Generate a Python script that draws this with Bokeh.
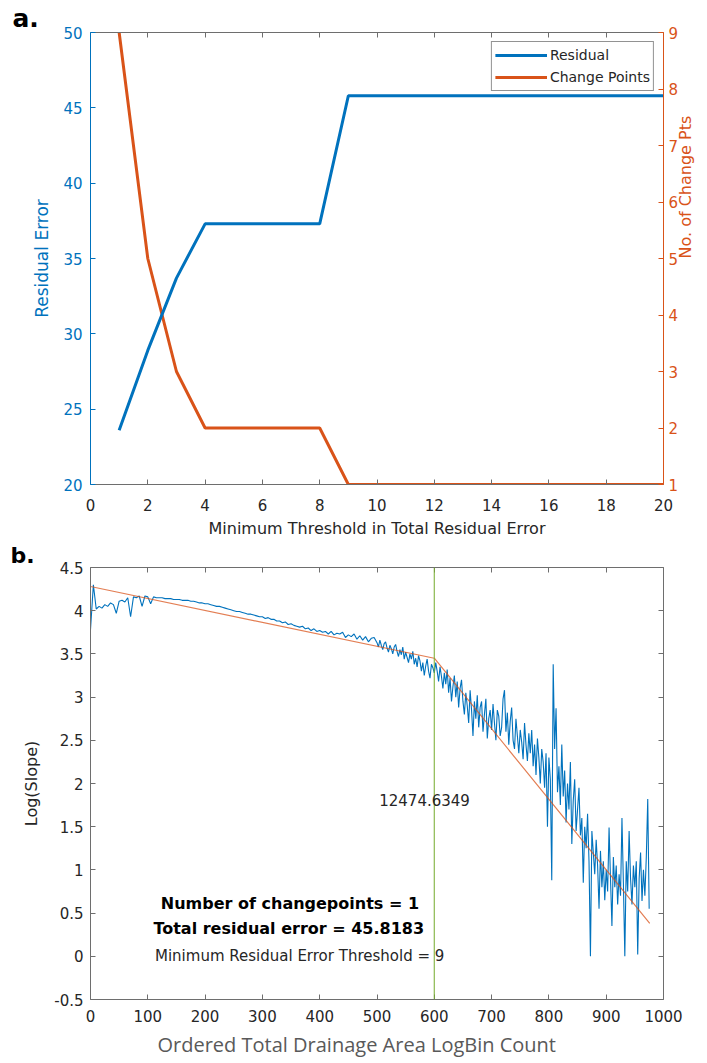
import math
from bokeh.plotting import figure
from bokeh.models import (LinearAxis, Range1d, Legend, LegendItem, Label, Span, Title,
                          CustomJSTickFormatter, FixedTicker)
from bokeh.layouts import column
from bokeh.embed import file_html
from bokeh.resources import INLINE

# ---------------- panel a data ----------------
thresholds = list(range(1, 21))
residual_error = [23.6, 28.9, 33.7, 37.3, 37.3, 37.3, 37.3, 37.3, 45.8, 45.8,
                  45.8, 45.8, 45.8, 45.8, 45.8, 45.8, 45.8, 45.8, 45.8, 45.8]
change_points = [9, 5, 3, 2, 2, 2, 2, 2, 1, 1, 1, 1, 1, 1, 1, 1, 1, 1, 1, 1]
a_x_ticks = list(range(0, 21, 2))
a_left_ticks = [20, 25, 30, 35, 40, 45, 50]
a_right_ticks = [1, 2, 3, 4, 5, 6, 7, 8, 9]

# ---------------- panel b data ----------------
# bins 0..495 (every 5th bin), then 500..975 (every 2.5)
bin_count = list(range(0, 500, 5)) + [500 + 2.5 * i for i in range(191)]
log_slope_upper = [
    3.78, 4.30, 4.02, 4.05, 4.03, 4.07, 4.05, 4.09, 4.07, 3.97,
    4.11, 4.12, 4.10, 4.15, 3.93, 4.16, 4.15, 4.17, 4.05, 4.17,
    4.16, 4.08, 4.16, 4.15, 4.15, 4.15, 4.14, 4.14, 4.14, 4.13,
    4.13, 4.13, 4.12, 4.12, 4.12, 4.11, 4.11, 4.10, 4.09, 4.09,
    4.08, 4.08, 4.07, 4.06, 4.05, 4.05, 4.04, 4.03, 4.02, 4.01,
    4.00, 3.99, 3.99, 3.98, 3.97, 3.96, 3.96, 3.95, 3.94, 3.93,
    3.93, 3.91, 3.92, 3.90, 3.90, 3.88, 3.88, 3.86, 3.87, 3.84,
    3.85, 3.83, 3.82, 3.81, 3.82, 3.79, 3.80, 3.77, 3.79, 3.76,
    3.77, 3.75, 3.76, 3.73, 3.76, 3.72, 3.74, 3.73, 3.75, 3.69,
    3.72, 3.70, 3.73, 3.67, 3.71, 3.66, 3.70, 3.64, 3.68, 3.69,
]
log_slope_lower = [
    3.63, 3.58, 3.66, 3.60, 3.55, 3.62, 3.64, 3.57, 3.52, 3.60,
    3.56, 3.50, 3.58, 3.61, 3.53, 3.47, 3.55, 3.49, 3.58, 3.44,
    3.52, 3.46, 3.40, 3.50, 3.44, 3.53, 3.38, 3.45, 3.35, 3.48,
    3.42, 3.30, 3.40, 3.25, 3.36, 3.44, 3.30, 3.22, 3.38, 3.34,
    3.28, 3.40, 3.30, 3.18, 3.35, 3.24, 3.10, 3.28, 3.15, 3.32,
    3.05, 3.22, 2.95, 3.12, 3.25, 3.00, 3.18, 2.88, 3.10, 3.20,
    2.95, 2.80, 3.05, 2.90, 2.70, 3.08, 2.85, 2.55, 2.95, 2.75,
    3.02, 2.65, 2.88, 2.95, 2.60, 2.80, 2.98, 2.52, 2.75, 2.85,
    2.62, 2.92, 2.70, 2.50, 2.85, 2.78, 2.55, 2.65, 2.98, 3.08,
    2.60, 2.82, 2.45, 2.72, 2.88, 2.50, 2.40, 2.75, 2.55, 2.35,
    2.62, 2.48, 2.28, 2.70, 2.45, 2.26, 2.58, 2.35, 2.62, 2.20,
    2.45, 2.10, 2.52, 2.30, 2.00, 2.40, 2.25, 1.95, 2.35, 1.50,
    2.30, 2.05, 0.88, 3.38, 2.40, 2.87, 1.90, 2.20, 1.75, 2.45,
    1.85, 2.15, 1.55, 2.00, 1.70, 2.25, 1.30, 1.80, 2.05, 1.45,
    1.70, 1.95, 1.40, 1.60, 0.85, 1.50, 1.25, 1.65, 1.10, 0.00,
    1.45, 1.20, 0.95, 1.35, 1.05, 0.55, 1.22, 0.80, 1.10, 0.65,
    1.00, 0.75, 1.49, 0.90, 0.35, 1.15, 0.80, 1.05, 0.60, 0.95,
    0.70, 1.60, 0.85, 0.00, 1.10, 0.75, 1.45, 0.90, 0.60, 1.05,
    0.80, 1.10, 0.02, 0.90, 1.20, 0.64, 1.00, 0.70, 1.15, 1.82,
    0.55,
]
log_slope = log_slope_upper + log_slope_lower
assert len(bin_count) == len(log_slope)
fit_x = [0, 600, 976]
fit_y = [4.28, 3.45, 0.38]
changepoint_loc = 600
b_x_ticks = list(range(0, 1001, 100))
b_y_ticks = [-0.5, 0, 0.5, 1, 1.5, 2, 2.5, 3, 3.5, 4, 4.5]

BLUE = "#0072BD"
ORANGE = "#D95319"
GREEN = "#77AC30"
DARK = "#262626"
GRAY = "#6e6e6e"
FONT = "DejaVu Sans"

fmt = CustomJSTickFormatter(code="return (Math.round(tick*10)/10).toString();")


def style_axis(ax, line_color, label_color, ticks, show_labels=True):
    ax.ticker = FixedTicker(ticks=ticks)
    ax.axis_line_color = line_color
    ax.major_tick_line_color = line_color
    ax.major_tick_in = 5
    ax.major_tick_out = 0
    ax.minor_tick_line_color = None
    ax.major_label_text_font = FONT
    ax.axis_label_text_font = FONT
    ax.axis_label_text_font_style = "normal"
    ax.axis_label_text_font_size = "17px"
    ax.axis_label_text_color = label_color
    ax.formatter = fmt
    if show_labels:
        ax.major_label_text_color = label_color
        ax.major_label_text_font_size = "15px"
    else:
        ax.major_label_text_color = None
        ax.major_label_text_font_size = "0px"
        ax.major_label_standoff = 0


# ---------------- panel a ----------------
p1 = figure(width=707, height=540, x_range=Range1d(0, 20), y_range=Range1d(20, 50),
            output_backend="svg", toolbar_location=None,
            min_border_left=88, min_border_right=44, min_border_top=32, min_border_bottom=54)
p1.extra_y_ranges = {"cp": Range1d(1, 9)}
p1.outline_line_color = None
p1.grid.visible = False
p1.background_fill_color = "white"
p1.border_fill_color = "white"

r2 = p1.line(thresholds, change_points, y_range_name="cp", line_color=ORANGE, line_width=3)
r1 = p1.line(thresholds, residual_error, line_color=BLUE, line_width=3)

xa = p1.xaxis[0]
style_axis(xa, GRAY, DARK, a_x_ticks)
xa.axis_label = "Minimum Threshold in Total Residual Error"
xa.axis_label_text_font_size = "16px"
xa.major_label_standoff = 14
xa.axis_label_standoff = 5

ya = p1.yaxis[0]
style_axis(ya, BLUE, BLUE, a_left_ticks)
ya.axis_label = "Residual Error"
ya.major_label_standoff = 8
ya.axis_label_standoff = 8

ra = LinearAxis(y_range_name="cp")
style_axis(ra, ORANGE, ORANGE, a_right_ticks)
ra.axis_label = "No. of Change Pts"
ra.axis_label_text_font_size = "16px"
ra.axis_label_text_line_height = 1.0
ra.axis_label_orientation = math.pi / 2
ra.major_label_standoff = 5
ra.axis_label_standoff = 4
p1.add_layout(ra, "right")

ta = LinearAxis()
style_axis(ta, GRAY, DARK, a_x_ticks, show_labels=False)
p1.add_layout(ta, "above")

legend = Legend(items=[LegendItem(label="Residual", renderers=[r1]),
                       LegendItem(label="Change Points", renderers=[r2])],
                location="top_right")
legend.label_text_font = FONT
legend.label_text_font_size = "14px"
legend.label_text_color = DARK
legend.border_line_color = DARK
legend.border_line_width = 1
legend.background_fill_alpha = 1
legend.glyph_width = 52
legend.glyph_height = 20
legend.label_height = 20
legend.label_standoff = 3
legend.padding = 3
legend.spacing = 2
legend.margin = 9
p1.add_layout(legend)

p1.add_layout(Title(text="a.", align="left", offset=-78, standoff=0, text_font=FONT,
                    text_font_size="25px", text_font_style="bold", text_color="black"),
              "above")

# ---------------- panel b ----------------
p2 = figure(width=707, height=523, x_range=Range1d(0, 1000), y_range=Range1d(-0.5, 4.5),
            output_backend="svg", toolbar_location=None,
            min_border_left=90, min_border_right=44, min_border_top=26, min_border_bottom=64)
p2.outline_line_color = None
p2.grid.visible = False
p2.background_fill_color = "white"
p2.border_fill_color = "white"

p2.line(bin_count, log_slope, line_color=BLUE, line_width=1.1)
p2.line(fit_x, fit_y, line_color=ORANGE, line_width=1.2, line_alpha=0.75)
p2.add_layout(Span(location=changepoint_loc, dimension="height", line_color=GREEN,
                   line_width=1.2, line_alpha=0.85))

xb = p2.xaxis[0]
style_axis(xb, GRAY, DARK, b_x_ticks)
xb.major_label_standoff = 10

yb = p2.yaxis[0]
style_axis(yb, GRAY, DARK, b_y_ticks)
yb.axis_label = "Log(Slope)"
yb.axis_label_text_font_size = "16px"
yb.major_label_standoff = 7
yb.axis_label_standoff = 10

tb = LinearAxis()
style_axis(tb, GRAY, DARK, b_x_ticks, show_labels=False)
p2.add_layout(tb, "above")
rb = LinearAxis()
style_axis(rb, GRAY, DARK, b_y_ticks, show_labels=False)
p2.add_layout(rb, "right")

p2.add_layout(Title(text="b.", align="left", offset=-80, standoff=0, text_font=FONT,
                    text_font_size="22px", text_font_style="bold", text_color="black"),
              "above")

p2.add_layout(Title(text="Ordered Total Drainage Area LogBin Count", align="left",
                    offset=67, standoff=8, text_font="Open Sans", text_font_size="20px",
                    text_font_style="normal", text_color="#595959"), "below")

p2.add_layout(Label(x=583, y=1.81, text="12474.6349", text_font=FONT,
                    text_font_size="15px", text_color=DARK,
                    text_align="center", text_baseline="middle"))
p2.add_layout(Label(x=348, y=0.61, text="Number of changepoints = 1", text_font=FONT,
                    text_font_size="16px", text_font_style="bold", text_color="black",
                    text_align="center", text_baseline="middle"))
p2.add_layout(Label(x=346, y=0.32, text="Total residual error = 45.8183", text_font=FONT,
                    text_font_size="16px", text_font_style="bold", text_color="black",
                    text_align="center", text_baseline="middle"))
p2.add_layout(Label(x=365, y=0.0, text="Minimum Residual Error Threshold = 9", text_font=FONT,
                    text_font_size="15px", text_color=DARK,
                    text_align="center", text_baseline="middle"))

layout = column(p1, p2, spacing=0)
open("out.html", "w").write(file_html(layout, INLINE))
